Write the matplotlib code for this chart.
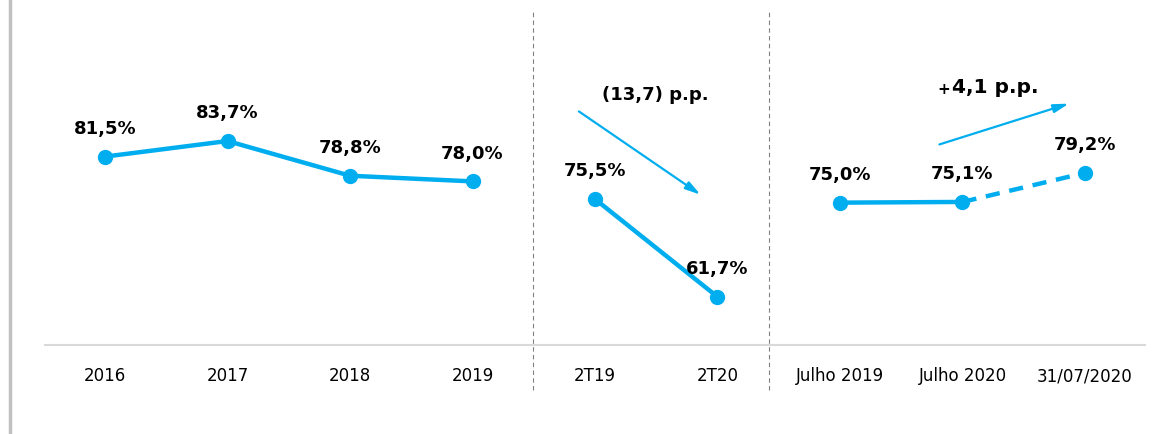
import matplotlib
matplotlib.use("Agg")
import matplotlib.pyplot as plt
from matplotlib.lines import Line2D

# categories and values (%)
categories = ["2016", "2017", "2018", "2019", "2T19", "2T20",
              "Julho 2019", "Julho 2020", "31/07/2020"]
annual = [81.5, 83.7, 78.8, 78.0]
quarter = [75.5, 61.7]
july = [75.0, 75.1]
projection = [75.1, 79.2]
labels = ["81,5%", "83,7%", "78,8%", "78,0%", "75,5%", "61,7%",
          "75,0%", "75,1%", "79,2%"]
label_values = annual + quarter + july + [projection[1]]

blue = "#00AEEF"

fig = plt.figure(figsize=(11.58, 4.34), dpi=100)
ax = fig.add_axes([45 / 1158, 89 / 434, 1100 / 1158, 335 / 434])

x_annual = [0, 1, 2, 3]
x_quarter = [4, 5]
x_july = [6, 7]
x_proj = [7, 8]

line_kw = dict(color=blue, lw=3.2, marker="o", markersize=10, solid_capstyle="round")
ax.plot(x_annual, annual, **line_kw)
ax.plot(x_quarter, quarter, **line_kw)
ax.plot(x_july, july, **line_kw)
ax.plot(x_proj, projection, color=blue, lw=3.2, ls=(0, (3.2, 2.2)), marker="o",
        markersize=10, markevery=[1])

for i, (v, lab) in enumerate(zip(label_values, labels)):
    ax.annotate(lab, (i, v), xytext=(0, 20), textcoords="offset points",
                ha="center", va="center", fontsize=13, fontweight="bold")

# variation arrows
arrow = dict(arrowstyle="-|>,head_length=0.9,head_width=0.25", color=blue, lw=1.6)
ax.annotate("", xy=(4.88, 75.9), xytext=(3.85, 88.1), arrowprops=arrow)
ax.text(4.49, 90.2, "(13,7) p.p.", ha="center", va="center",
        fontsize=13, fontweight="bold")
ax.annotate("", xy=(7.89, 89.1), xytext=(6.79, 83.1), arrowprops=arrow)
ax.text(6.85, 91.0, "+", ha="center", va="center", fontsize=11, fontweight="bold")
ax.text(7.27, 91.3, "4,1 p.p.", ha="center", va="center",
        fontsize=14.5, fontweight="bold")

# group separators
for xs in (3.494, 5.42):
    ax.plot([xs, xs], [48.6, 102.2], color="#808080", lw=0.8, ls=(0, (4, 3)),
            clip_on=False)

ax.set_xlim(-0.49, 8.49)
ax.set_ylim(54.9, 102.2)
ax.set_xticks(range(len(categories)))
ax.set_xticklabels(categories, fontsize=12)
ax.tick_params(axis="x", length=0, pad=16)
ax.set_yticks([])
for side in ["top", "right", "left"]:
    ax.spines[side].set_visible(False)
ax.spines["bottom"].set_color("#d9d9d9")
ax.spines["bottom"].set_linewidth(1.5)

# left frame line
fig.add_artist(Line2D([10 / 1158, 10 / 1158], [0, 1], color="#c0c0c0", lw=2.5))

fig.savefig("out.png", dpi=100)
